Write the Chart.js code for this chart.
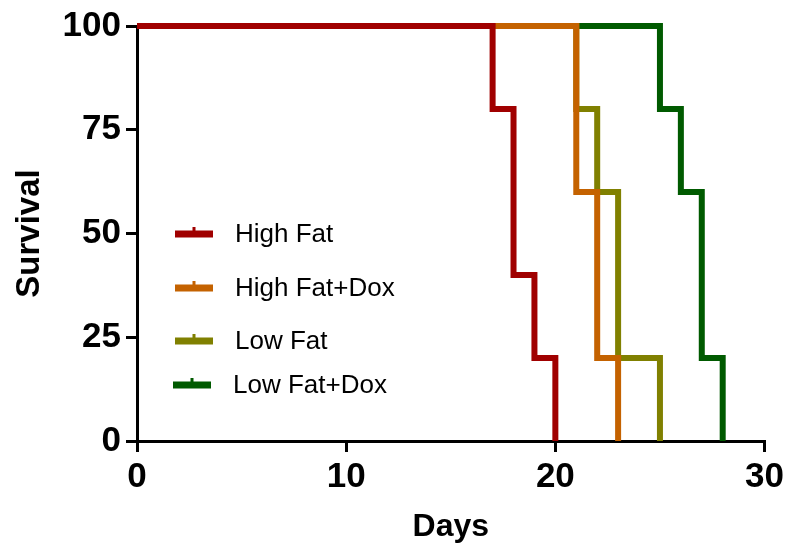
<!DOCTYPE html>
<html>
<head>
<meta charset="utf-8">
<script src="https://cdn.jsdelivr.net/npm/chart.js@4"></script>
<style>
  html, body { margin: 0; padding: 0; background: #fff; }
  #wrap { width: 788px; height: 546px; position: relative; }
</style>
</head>
<body>
<div id="wrap"><canvas id="c"></canvas></div>
<script>
// Kaplan-Meier survival (%) by day for each diet group
const seriesNames = ['High Fat', 'High Fat+Dox', 'Low Fat', 'Low Fat+Dox'];
const seriesColors = ['#a00000', '#c46200', '#808000', '#005a00'];

const highFatDays = [0, 17, 18, 19, 20];
const highFatSurvival = [100, 80, 40, 20, 0];

const highFatDoxDays = [0, 21, 22, 23];
const highFatDoxSurvival = [100, 60, 20, 0];

const lowFatDays = [0, 21, 22, 23, 25];
const lowFatSurvival = [100, 80, 60, 20, 0];

const lowFatDoxDays = [0, 25, 26, 27, 28];
const lowFatDoxSurvival = [100, 80, 60, 20, 0];

const xTickValues = [0, 10, 20, 30];
const yTickValues = [0, 25, 50, 75, 100];

const seriesDays = [highFatDays, highFatDoxDays, lowFatDays, lowFatDoxDays];
const seriesSurvival = [highFatSurvival, highFatDoxSurvival, lowFatSurvival, lowFatDoxSurvival];

const FONT = "'Liberation Sans', Arial, Helvetica, sans-serif";

const datasets = seriesNames.map((name, i) => ({
  label: name,
  data: seriesDays[i].map((d, k) => ({ x: d, y: seriesSurvival[i][k] })),
  borderColor: seriesColors[i],
  backgroundColor: seriesColors[i],
  borderWidth: 6,
  stepped: 'before',
  tension: 0,
  pointRadius: 0,
  pointHoverRadius: 0,
  borderCapStyle: 'butt',
  borderJoinStyle: 'miter',
  fill: false,
  clip: false
}));

// Legend drawn inside the plot: a bar with a small censor tick, then the label
const sideLegend = {
  id: 'sideLegend',
  afterDatasetsDraw(chart, args, opts) {
    const ctx = chart.ctx;
    ctx.save();
    ctx.font = opts.font;
    ctx.textBaseline = 'middle';
    ctx.textAlign = 'left';
    chart.data.datasets.forEach((ds, i) => {
      const r = opts.rows[i];
      ctx.fillStyle = ds.borderColor;
      ctx.fillRect(r.x, r.y - 3.5, opts.symbolWidth, 7);
      ctx.fillRect(r.x + opts.symbolWidth / 2 - 1.5, r.y - 7, 3, 4);
      ctx.fillStyle = '#000';
      ctx.fillText(ds.label, r.x + opts.textGap, r.y + 1);
    });
    ctx.restore();
  }
};

new Chart(document.getElementById('c'), {
  type: 'line',
  data: { datasets },
  plugins: [sideLegend],
  options: {
    responsive: true,
    maintainAspectRatio: false,
    animation: false,
    devicePixelRatio: 1,
    layout: { padding: { left: 0, right: 22, top: 22, bottom: 0 } },
    plugins: {
      legend: { display: false },
      tooltip: { enabled: false },
      sideLegend: {
        font: '26px ' + FONT,
        symbolWidth: 38,
        textGap: 60,
        rows: [
          { x: 175, y: 234 },
          { x: 175, y: 288 },
          { x: 175, y: 341 },
          { x: 173, y: 385 }
        ]
      }
    },
    scales: {
      x: {
        type: 'linear',
        min: 0,
        max: 30,
        afterBuildTicks: s => { s.ticks = xTickValues.map(v => ({ value: v })); },
        afterFit: s => { s.height = 105; },
        border: { display: true, color: '#000', width: 3 },
        grid: { drawOnChartArea: false, drawTicks: true, tickLength: 11, tickWidth: 3, tickColor: '#000', lineWidth: 3, color: '#000' },
        ticks: { color: '#000', font: { family: FONT, size: 35, weight: 'bold' }, padding: 4, maxRotation: 0 },
        title: { display: true, text: 'Days', color: '#000', font: { family: FONT, size: 32, weight: 'bold' }, padding: { top: 0, bottom: 0 } }
      },
      y: {
        type: 'linear',
        min: 0,
        max: 100,
        afterBuildTicks: s => { s.ticks = yTickValues.map(v => ({ value: v })); },
        afterFit: s => { s.width = 137; },
        border: { display: true, color: '#000', width: 3 },
        grid: { drawOnChartArea: false, drawTicks: true, tickLength: 11, tickWidth: 3, tickColor: '#000', lineWidth: 3, color: '#000' },
        ticks: { color: '#000', font: { family: FONT, size: 35, weight: 'bold' }, padding: 5 },
        title: { display: true, text: 'Survival', color: '#000', font: { family: FONT, size: 33, weight: 'bold' }, padding: { top: 10, bottom: 0 } }
      }
    }
  }
});
</script>
</body>
</html>
